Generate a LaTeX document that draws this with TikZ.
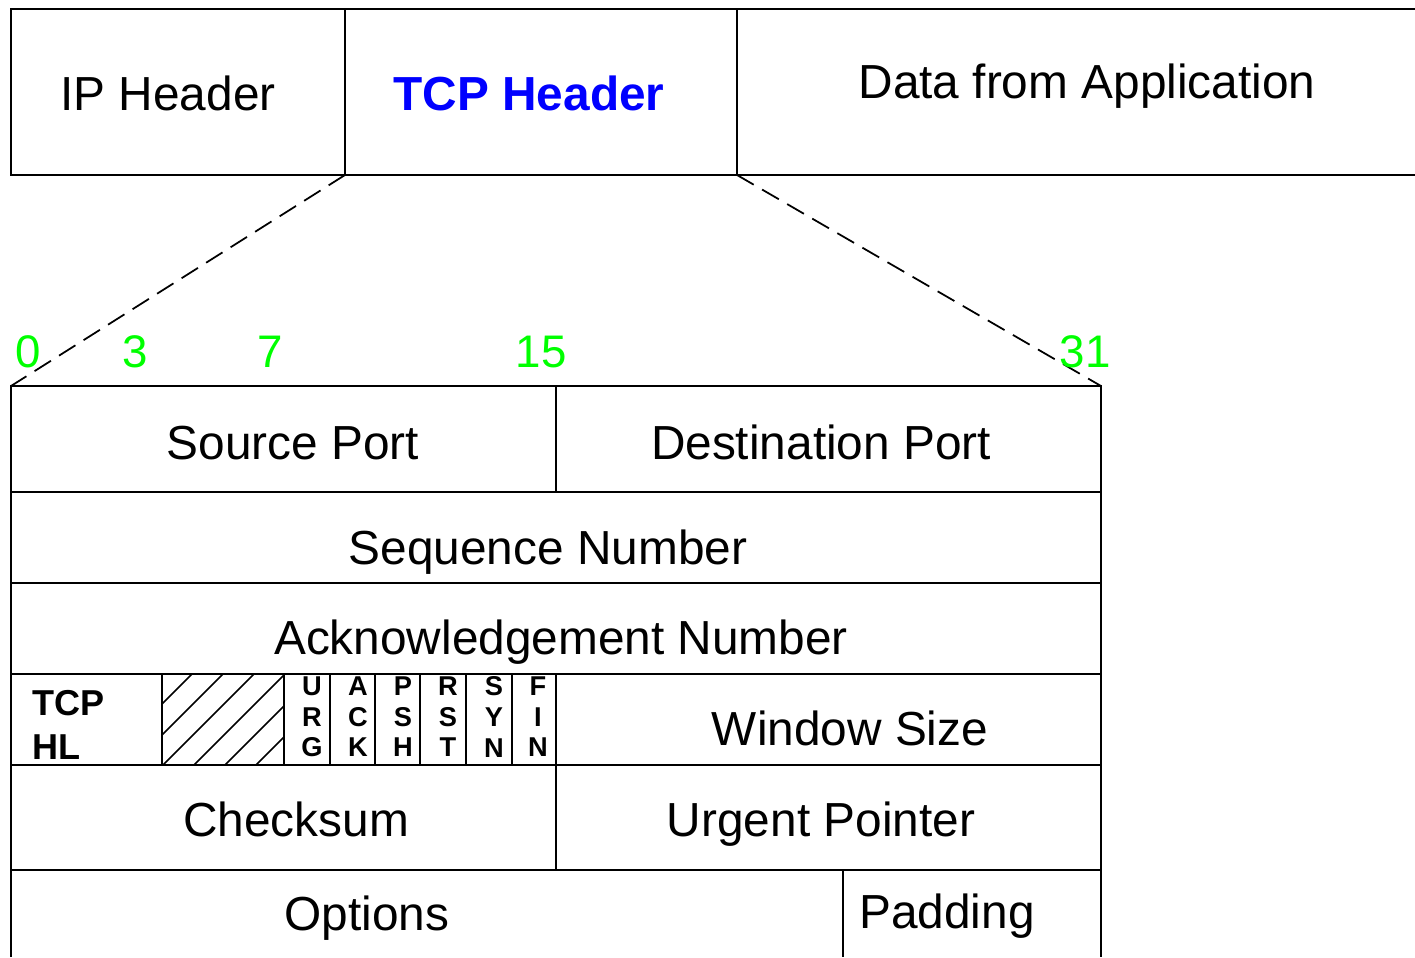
\documentclass[tikz,border=0pt]{standalone}
\usepackage{fontspec}
\setmainfont{Liberation Sans}
\usetikzlibrary{positioning}
\definecolor{BitGreen}{RGB}{0, 255, 0}
\definecolor{HdrBlue}{RGB}{0, 0, 255}

\begin{document}
\begin{tikzpicture}[
            x=0.02cm, y=-0.02cm,
            frame/.style={line width=1.3pt, black},
            zoomline/.style={line width=1pt, dash pattern=on 11pt off 5.5pt},
            hatch/.style={line width=0.9pt},
            fieldtxt/.style={anchor=base, inner sep=0pt, font=\fontsize{27.2}{32}\selectfont},
            fieldbold/.style={fieldtxt, font=\bfseries\fontsize{27.2}{32}\selectfont},
            bitnum/.style={anchor=base, inner sep=0pt, text=BitGreen, font=\fontsize{26}{30}\selectfont},
            flagtxt/.style={inner sep=0pt, align=center, font=\bfseries\fontsize{15.5}{17.4}\selectfont}
        ]
            \useasboundingbox (0,0) rectangle (1415,957);

            \coordinate (tcpL) at (345,175);
            \coordinate (tcpR) at (737,175);
            \coordinate (hdrL) at (11,386);
            \coordinate (hdrR) at (1101,386);

            \draw[frame] (1415,9) -- (11,9) -- (11,175) -- (1415,175);
            \draw[frame] (345,9) -- (tcpL) (737,9) -- (tcpR);

            \draw[frame] (11,957) -- (hdrL) -- (hdrR) -- (1101,957);
            \foreach \y in {492,583,674,765,870}
                \draw[frame] (11,\y) -- (1101,\y);
            \draw[frame] (556,386) -- (556,492) (556,674) -- (556,870) (843,870) -- (843,957);
            \foreach \x in {162,284,330,375,420,466,512}
                \draw[frame] (\x,674) -- (\x,765);

            \begin{scope}
                \clip (162,674) rectangle (284,765);
                \foreach \k in {-2,...,3}
                    \draw[hatch] (163+31*\k,765) -- ++(91,-91);
            \end{scope}

            \draw[zoomline] (tcpL) -- (hdrL);
            \draw[zoomline] (tcpR) -- (hdrR);

            \node[fieldtxt] (ip) at (168,110) {IP Header};
            \node[fieldbold, text=HdrBlue] (tcp) at (529,110) {TCP Header};
            \node[fieldtxt] (data) at (1087,98) {Data from Application};

            \node[bitnum] (b0) at (28,367) {0};
            \node[bitnum] (b3) at (135,367) {3};
            \node[bitnum] (b7) at (270,367) {7};
            \node[bitnum] (b15) at (541,367) {15};
            \node[bitnum] (b31) at (1085,367) {31};

            \node[fieldtxt] (srcport) at (293,459) {Source Port};
            \node[fieldtxt] (dstport) at (821,459) {Destination Port};
            \node[fieldtxt] (seqnum) at (548,564) {Sequence Number};
            \node[fieldtxt] (acknum) at (561,654) {Acknowledgement Number};
            \node[fieldtxt] (window) at (850,745) {Window Size};
            \node[fieldtxt] (checksum) at (296,836) {Checksum};
            \node[fieldtxt] (urgptr) at (821,836) {Urgent Pointer};
            \node[fieldtxt] (options) at (367,930) {Options};
            \node[fieldtxt] (padding) at (947,928) {Padding};

            \node[inner sep=0pt, anchor=north west, align=left,
                  font=\bfseries\fontsize{20.5}{25}\selectfont] (hlen) at (32,690) {TCP\\HL};
            \foreach \x/\t/\n in {312/{U\\R\\G}/urg, 358/{A\\C\\K}/ack, 403/{P\\S\\H}/psh,
                                  448/{R\\S\\T}/rst, 494/{S\\Y\\N}/syn, 538/{F\\I\\N}/fin}
                \node[flagtxt] (\n) at (\x,717) {\t};
        \end{tikzpicture}
\end{document}
